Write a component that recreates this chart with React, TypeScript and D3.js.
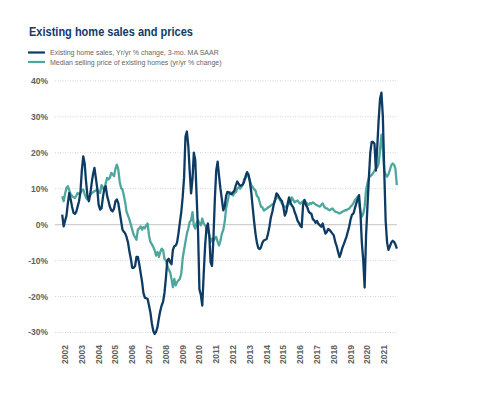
import React from "react";
import * as d3 from "d3";

// monthly values, first point = May 2002
const startYear = 2002;
const startMonth = 4;

const homeSales = [
  2.8, -0.5, 1.0, 2.5, 6.0, 8.8, 7.0, 5.0, 3.3, 3.0, 3.5, 5.0,
  6.5, 9.0, 15.0, 19.0, 17.0, 12.0, 8.0, 6.5, 8.5, 11.6, 14.0, 15.8,
  13.0, 10.0, 5.5, 4.2, 4.5, 7.5, 10.0, 10.7, 8.0, 6.5, 5.0, 4.0,
  3.7, 4.5, 6.5, 7.0, 6.0, 3.5, 1.0, -1.4, -2.0, -2.5, -3.5, -5.0,
  -7.5, -9.5, -12.0, -12.0, -11.5, -9.0, -9.0, -11.0, -13.5, -16.0, -19.0, -20.3,
  -20.5, -20.7, -22.5, -24.5, -27.5, -29.5, -30.4, -29.8, -28.5, -26.0, -24.0, -22.5,
  -21.5, -19.0, -15.0, -10.0, -9.5, -10.4, -11.0, -7.0, -6.0, -5.8, -5.0, -2.5,
  0.5, 3.5, 7.5, 13.0, 24.5, 25.9, 22.0, 15.0, 8.7, 12.8, 20.0, 18.0,
  8.0, -2.0, -18.0, -19.5, -22.5, -14.0, -6.0, -1.0, 0.3, -3.0, -10.5, -11.5,
  -4.0, 7.0, 15.0, 17.5, 13.5, 10.0, 7.0, 4.0, 5.0, 8.0, 9.1, 9.0,
  8.6, 8.5, 9.0, 9.5, 11.0, 12.0, 11.3, 10.8, 10.9, 11.2, 12.0, 13.5,
  14.6, 14.0, 12.0, 9.0, 4.8, 1.0, -2.5, -5.0, -6.5, -6.8, -6.3, -5.0,
  -4.4, -4.2, -4.0, -2.5, -0.5, 2.0, 3.5, 5.5, 7.0, 8.7, 8.3, 7.6,
  7.0, 6.5, 4.8, 2.5, 3.5, 5.8, 7.6, 6.0, 5.3, 4.8, 3.5, 2.5,
  1.2, 0.5, -0.3, -0.7, 5.5, 6.9, 5.5, 4.8, 3.6, 3.2, 3.0, 1.5,
  1.2, 0.5, 1.0, 0.2, -0.2, -0.6, 0.3, -1.2, -2.5, -2.0, -1.2, -1.5,
  -2.0, -2.5, -3.0, -4.8, -6.0, -7.5, -9.0, -8.0, -6.5, -5.5, -4.5, -3.4,
  -2.0, -0.5, 1.5, 2.8, 3.1, 4.5, 5.9, 7.0, 8.2, 3.0, -5.0, -10.0,
  -17.5, -3.0, 5.0, 13.0, 20.0, 23.0, 23.0, 22.5, 15.0, 22.0, 29.0, 35.0,
  36.7, 30.0, 15.0, 1.0, -5.0, -7.0, -6.0, -5.0, -4.5, -4.8, -5.5, -6.7,
];

const medianPrice = [
  7.9, 6.5, 8.5, 10.2, 10.7, 9.5, 8.4, 8.0, 7.6, 7.4, 8.0, 8.8,
  8.5, 8.8, 9.5, 9.8, 8.5, 7.5, 7.0, 7.5, 8.3, 8.8, 9.0, 9.3,
  9.5, 9.8, 9.0, 8.8, 11.0, 10.5, 9.3, 11.5, 13.0, 12.6, 13.0, 14.4,
  14.0, 13.5, 15.5, 16.7, 15.3, 12.0, 10.2, 9.8, 8.0, 6.0, 3.5, 2.5,
  1.4, 0.0, -1.4, -2.8, -3.5, -4.2, -1.4, -1.0, -0.5, -1.4, -0.7, -1.0,
  -0.2, 0.3, -3.0, -4.8, -5.5, -6.2, -7.2, -8.6, -7.6, -9.0, -7.6, -6.7,
  -7.0, -9.5, -10.0, -11.3, -12.5, -13.2, -15.1, -17.4, -15.1, -16.9, -16.0, -15.5,
  -15.1, -13.7, -9.5, -7.0, -4.8, -2.5, -1.1, 0.7, 1.2, 3.5, -0.2, -1.1,
  0.5, 1.2, 0.3, -0.2, 1.7, 0.3, -0.2, -1.0, -2.0, -3.0, -4.8, -3.9,
  -4.4, -3.8, -3.4, -4.8, -5.8, -4.5, -2.5, -1.5, 0.7, 4.5, 6.3, 8.0,
  9.0, 8.5, 8.1, 8.8, 9.0, 10.0, 10.4, 10.0, 10.5, 11.3, 12.7, 13.0,
  14.1, 13.5, 12.3, 11.0, 10.4, 9.8, 9.5, 8.0, 7.6, 6.2, 5.0, 4.8,
  3.9, 4.2, 4.4, 4.8, 5.0, 5.3, 5.6, 5.8, 6.7, 7.5, 8.1, 7.2,
  6.5, 5.8, 5.3, 4.8, 5.0, 5.3, 5.8, 6.2, 7.6, 6.8, 6.2, 6.5,
  6.7, 6.2, 5.8, 6.2, 6.5, 6.7, 6.2, 5.8, 5.5, 6.0, 5.8, 6.2,
  5.9, 5.6, 5.4, 5.2, 5.0, 5.5, 5.9, 5.0, 4.6, 4.5, 4.2, 4.0,
  4.3, 4.5, 4.0, 3.6, 3.5, 3.3, 3.1, 3.3, 3.6, 3.8, 4.0, 4.0,
  4.3, 4.5, 5.0, 5.4, 6.0, 6.8, 7.2, 7.8, 5.9, 3.5, 2.2, 3.0,
  5.0, 9.6, 11.5, 13.0, 13.5, 13.8, 14.3, 15.0, 15.5, 16.0, 17.0, 20.7,
  25.0, 21.0, 15.0, 14.0, 13.3, 14.0, 15.2, 16.5, 17.0, 16.6, 15.5, 11.0,
];

const yTicks = [-30, -20, -10, 0, 10, 20, 30, 40];
const years = d3.range(2002, 2022);

const navy = "#0d3b64";
const teal = "#4ea79c";

const App = () => {
  const x = d3.scaleTime()
    .domain([new Date(2002, 0, 1), new Date(2022, 0, 1)])
    .range([56.7, 392.7]);
  const y = d3.scaleLinear().domain([-30, 40]).range([332.5, 80.8]);

  const dateOf = (i: number) => new Date(startYear, startMonth + i, 1);
  const line = d3.line<number>()
    .x((d, i) => x(dateOf(i)))
    .y((d) => y(d));

  const gridX0 = 55;
  const gridX1 = 397;

  return (
    <svg width={498} height={394} style={{ position: "absolute", left: 0, top: 0 }}
      fontFamily="'Liberation Sans', Arial, sans-serif">
      <rect width={498} height={394} fill="#fff" />
      <text x={29} y={36} fontSize={12.5} fontWeight="bold" fill="#123a66"
        textLength={164} lengthAdjust="spacingAndGlyphs">
        Existing home sales and prices
      </text>

      {/* legend */}
      <line x1={28} x2={45} y1={52.5} y2={52.5} stroke={navy} strokeWidth={2.2} />
      <text x={50} y={55} fontSize={7} fill="#666">
        Existing home sales, Yr/yr % change, 3-mo. MA SAAR
      </text>
      <line x1={28} x2={45} y1={62} y2={62} stroke={teal} strokeWidth={2.2} />
      <text x={50} y={64.5} fontSize={7} fill="#666">
        Median selling price of existing homes (yr/yr % change)
      </text>

      {/* grid */}
      {yTicks.map((t) => (
        <g key={t}>
          <line x1={gridX0} x2={gridX1} y1={y(t)} y2={y(t)}
            stroke={t === 0 ? "#cfcfcf" : "#d4d4d4"}
            strokeWidth={t === 0 ? 1.3 : 1}
            strokeDasharray={t === 0 ? undefined : "1,1.5"} />
          <text x={48} y={y(t)} dy="0.35em" textAnchor="end" fontSize={8.5}
            fontWeight="bold" fill="#5e5e5e">{`${t}%`}</text>
        </g>
      ))}

      {years.map((yr) => {
        const px = x(new Date(yr, 6, 1));
        return (
          <text key={yr} transform={`translate(${px},345) rotate(-90)`}
            textAnchor="end" dy="0.35em" fontSize={8.5} fontWeight="bold" fill="#5e5e5e">
            {yr}
          </text>
        );
      })}

      <path d={line(medianPrice) ?? ""} fill="none" stroke={teal} strokeWidth={2.3}
        strokeLinejoin="round" />
      <path d={line(homeSales) ?? ""} fill="none" stroke={navy} strokeWidth={2.3}
        strokeLinejoin="round" />
    </svg>
  );
};

export default App;
